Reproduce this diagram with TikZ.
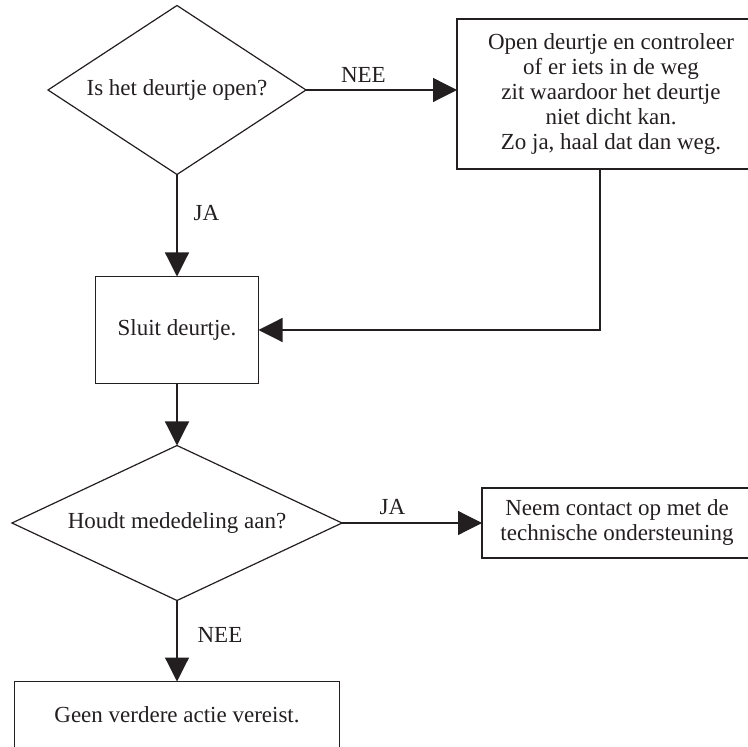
\documentclass[tikz,border=0pt]{standalone}
\usepackage{fontspec}
\setmainfont{Liberation Serif}
\usepackage{xcolor}
\usepackage{tikz}
\usetikzlibrary{shapes.geometric, arrows.meta, positioning}
\definecolor{inkdark}{HTML}{231F20}
\tikzstyle{decisionbox} = [diamond, draw=inkdark, text=inkdark, inner sep=0pt, outer sep=0pt,
  line width=0.6pt, font=\fontsize{11.5}{12.5}\selectfont]
\tikzstyle{actionbox} = [rectangle, draw=inkdark, text=inkdark, align=center, inner sep=2pt, outer sep=0pt,
  line width=0.6pt, font=\fontsize{11.5}{12.5}\selectfont]
\tikzstyle{arrow} = [draw=inkdark, line width=0.6pt, -{Triangle[length=12pt, width=12pt]}]
\tikzstyle{answer} = [text=inkdark, inner sep=1pt, font=\fontsize{11.5}{12.5}\selectfont]

\begin{document}
\begin{tikzpicture}
  % Frame (picture is cut off at the right and bottom)
  \clip (0pt,0pt) rectangle (374pt,-373.5pt);

  % First question
  \node (open) [decisionbox, minimum width=129pt, minimum height=84.5pt, shape aspect=1.5]
    at (88.5pt,-45pt) {Is het deurtje open?};

  % Remove obstruction
  \node (fix) [actionbox, right=75.5pt of open, yshift=-2pt, minimum width=154pt, minimum height=75pt]
    {Open deurtje en controleer\\of er iets in de weg\\zit waardoor het deurtje\\niet dicht kan.\\Zo ja, haal dat dan weg.};

  % Close
  \node (shut) [actionbox, below=51pt of open, minimum width=81.5pt, minimum height=53.5pt]
    {Sluit deurtje.};

  % Second question
  \node (holds) [decisionbox, below=31pt of shut, minimum width=165pt, minimum height=77.5pt, shape aspect=2.1]
    {Houdt mededeling aan?};

  % Outcomes
  \node (contact) [actionbox, right=70pt of holds, minimum width=135pt, minimum height=35pt]
    {Neem contact op met de\\technische ondersteuning};
  \node (done) [actionbox, below=40.5pt of holds, minimum width=162.5pt, minimum height=33pt]
    {Geen verdere actie vereist.};

  % Arrows
  \draw[arrow] (open.east) -- node[answer, pos=0.38, above=2.5pt] {NEE} (open.east -| fix.west);
  \draw[arrow] (open) -- node[answer, pos=0.38, right=7pt] {JA} (shut);
  \draw[arrow] ([xshift=-5.5pt]fix.south) |- (shut);
  \draw[arrow] (shut) -- (holds);
  \draw[arrow] (holds) -- node[answer, pos=0.36, above=3pt] {JA} (contact);
  \draw[arrow] (holds) -- node[answer, pos=0.43, right=9pt] {NEE} (done);
\end{tikzpicture}
\end{document}
